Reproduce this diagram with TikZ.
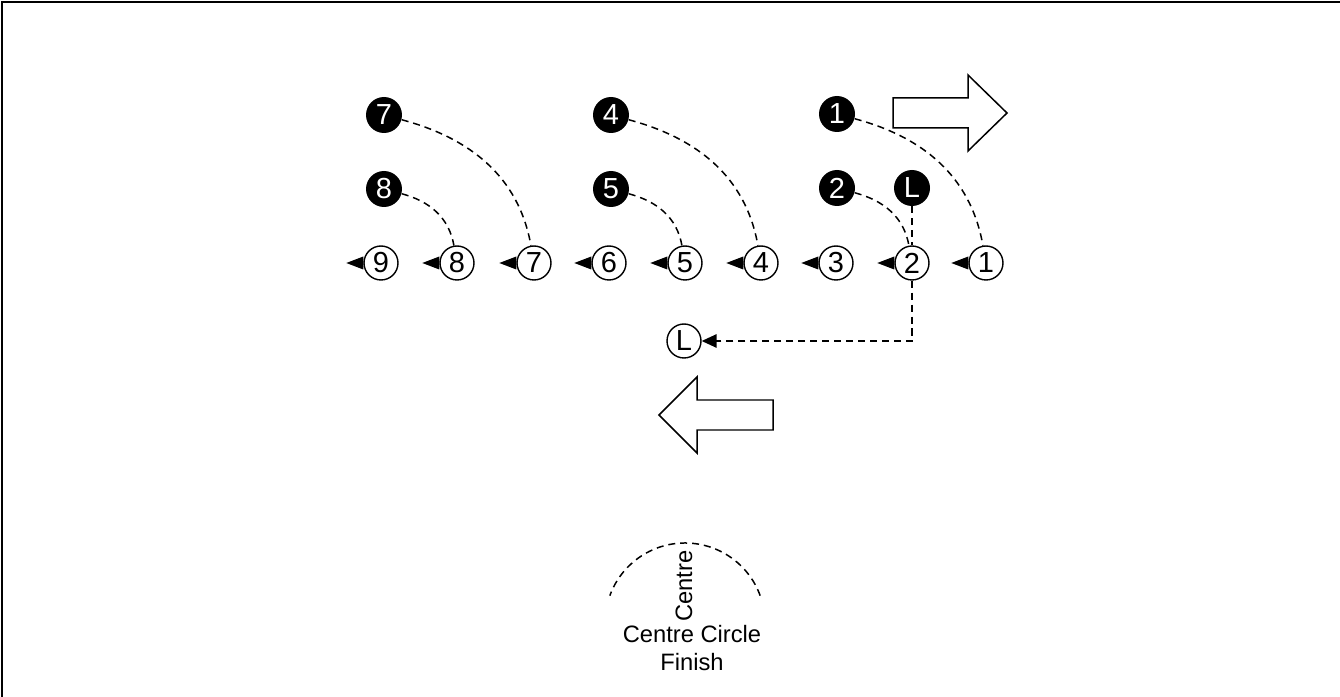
\documentclass[tikz,border=0pt]{standalone}
\usepackage{fontspec}
\setmainfont{Liberation Sans}
\usetikzlibrary{arrows.meta}

\begin{document}
\begin{tikzpicture}
  [x=0.02cm,y=0.02cm,font=\fontsize{16.5}{19}\selectfont,
   player/.style={circle,fill=black,text=white,inner sep=0pt,minimum size=0.72cm},
   spot/.style={circle,draw,line width=0.8pt,inner sep=0pt,minimum size=0.68cm},
   run/.style={line width=0.85pt,dash pattern=on 4pt off 2.8pt},
   bigarrow/.style={draw,fill=white,line width=0.85pt}]
  \useasboundingbox (0,0) rectangle (1340,697);
  \draw[line width=1.2pt] (2,0) -- (2,695) -- (1340,695);
  % players before the run
  \node[player] (b7) at (384,582) {7};
  \node[player] (b4) at (611,582) {4};
  \node[player] (b1) at (837,583) {1};
  \node[player] (b8) at (384,508) {8};
  \node[player] (b5) at (611,508) {5};
  \node[player] (b2) at (837,509) {2};
  \node[player] (bL) at (912,509) {L};
  % spots on the line
  \foreach \n/\x in {9/381,8/457,7/534,6/609,5/685,4/761,3/836,2/912,1/986}
  {
    \node[spot] (w\n) at (\x,434) {\n};
    \fill ([yshift=0.13cm]w\n.west) -- ([yshift=-0.13cm]w\n.west)
      -- ([xshift=-0.34cm]w\n.west) -- cycle;
  }
  \node[spot] (wL) at (684,356) {L};

  \foreach \from/\to in {b7/w7,b8/w8,b4/w4,b5/w5,b1/w1,b2/w2}
    \draw[run] (\from) to[out=-15,in=100] (\to);
  \draw[run] (bL) -- (w2);
  \draw[run,-{Triangle[length=0.3cm,width=0.27cm]}] (w2) |- (wL);

  % direction arrows
  \draw[bigarrow] (893,569) -- (968,569) -- (968,546) -- (1007,584)
    -- (968,622) -- (968,599) -- (893,599) -- cycle;
  \draw[bigarrow] (773,267) -- (697,267) -- (697,244) -- (659,282)
    -- (697,320) -- (697,297) -- (773,297) -- cycle;

  % centre circle
  \coordinate (cc) at (685,74);
  \draw[run] ([shift={(20:80)}]cc) arc[start angle=20,end angle=160,radius=80];
  \node[rotate=90,font=\fontsize{13.5}{16}\selectfont] (centre) at (684,111) {Centre};
  \node[align=center,font=\fontsize{13.5}{16}\selectfont] (finish) at (692,49)
    {Centre Circle\\Finish};
\end{tikzpicture}
\end{document}
